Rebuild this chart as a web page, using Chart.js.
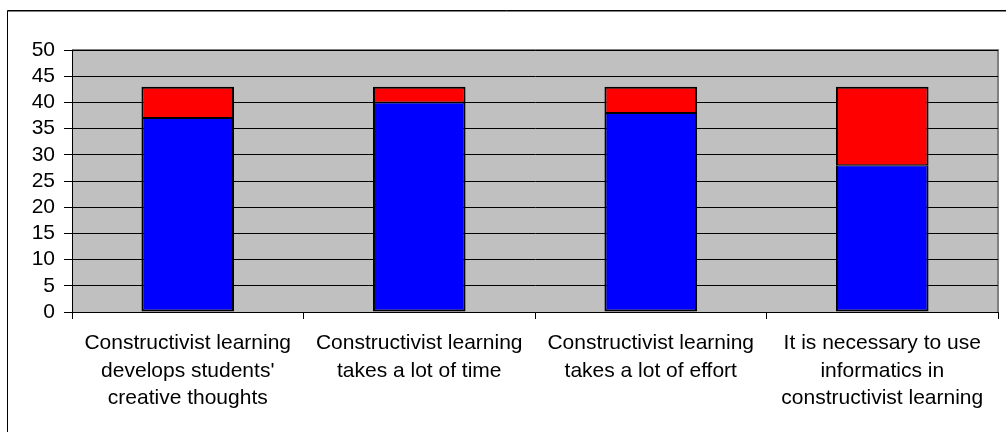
<!DOCTYPE html>
<html>
<head>
<meta charset="utf-8">
<script src="https://cdn.jsdelivr.net/npm/chart.js@4/dist/chart.umd.min.js"></script>
<style>
  html, body { margin: 0; padding: 0; background: #fff; }
  #wrap { width: 1006px; height: 432px; position: relative; }
</style>
</head>
<body>
<div id="wrap"><canvas id="surveyChart"></canvas></div>
<script>
const statements = [
  ["Constructivist learning", "develops students'", "creative thoughts"],
  ["Constructivist learning", "takes a lot of time"],
  ["Constructivist learning", "takes a lot of effort"],
  ["It is necessary to use", "informatics in", "constructivist learning"]
];
const agreeCounts = [37, 40, 38, 28];
const disagreeCounts = [6, 3, 5, 15];
const yMax = 50;
const yStep = 5;

const FONT = { family: "'Liberation Sans', Arial, sans-serif", size: 21, lineHeight: 1.3 };

// outer frame + grey plot background
const framePlugin = {
  id: 'frame',
  beforeDraw(chart) {
    const { ctx, chartArea: a } = chart;
    ctx.save();
    ctx.fillStyle = '#fff';
    ctx.fillRect(0, 0, chart.width, chart.height);
    ctx.strokeStyle = '#000';
    ctx.lineWidth = 1;
    ctx.beginPath();
    ctx.moveTo(7.5, chart.height);
    ctx.lineTo(7.5, 10.5);
    ctx.lineTo(chart.width, 10.5);
    ctx.stroke();
    ctx.strokeStyle = '#808080';
    ctx.beginPath();
    ctx.moveTo(8, 11.5);
    ctx.lineTo(chart.width, 11.5);
    ctx.stroke();
    ctx.fillStyle = '#c0c0c0';
    ctx.fillRect(a.left, a.top, a.right - a.left, a.bottom - a.top);
    ctx.strokeStyle = '#808080';
    ctx.lineWidth = 2;
    ctx.beginPath();
    ctx.moveTo(a.left, a.top);
    ctx.lineTo(a.right, a.top);
    ctx.lineTo(a.right, a.bottom);
    ctx.stroke();
    ctx.restore();
  }
};

new Chart(document.getElementById('surveyChart'), {
  type: 'bar',
  data: {
    labels: statements,
    datasets: [
      {
        label: 'Agree',
        data: agreeCounts,
        backgroundColor: '#0000ff',
        borderColor: '#000',
        borderWidth: { top: 1, bottom: 2, left: 2, right: 2 },
        borderSkipped: false
      },
      {
        label: 'Disagree',
        data: disagreeCounts,
        backgroundColor: '#ff0000',
        borderColor: '#000',
        borderWidth: { top: 2, bottom: 1, left: 2, right: 2 },
        borderSkipped: false
      }
    ]
  },
  options: {
    responsive: true,
    maintainAspectRatio: false,
    animation: false,
    layout: { padding: { top: 50, right: 8, left: 0, bottom: 0 } },
    datasets: { bar: { barPercentage: 0.4, categoryPercentage: 1 } },
    plugins: { legend: { display: false }, tooltip: { enabled: false } },
    scales: {
      x: {
        stacked: true,
        grid: { drawOnChartArea: false, drawTicks: true, tickLength: 7, color: '#000', offset: true },
        border: { display: true, color: '#000', width: 1 },
        ticks: { color: '#000', font: FONT, padding: 11, maxRotation: 0, autoSkip: false },
        afterFit(scale) { scale.height = 120; }
      },
      y: {
        stacked: true,
        min: 0,
        max: yMax,
        grid: { color: '#000', lineWidth: 1, tickLength: 8, drawTicks: true },
        border: { display: true, color: '#000', width: 1 },
        ticks: { stepSize: yStep, autoSkip: false, color: '#000', font: FONT, padding: 9 },
        afterFit(scale) { scale.width = 72; }
      }
    }
  },
  plugins: [framePlugin]
});
</script>
</body>
</html>
